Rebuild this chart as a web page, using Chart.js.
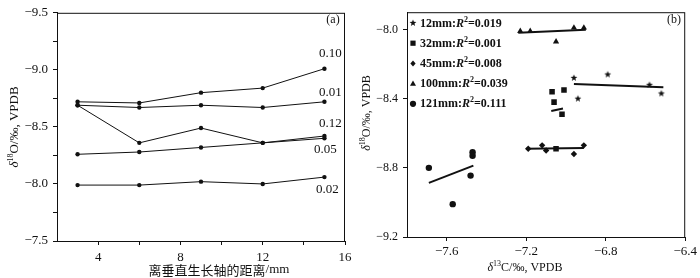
<!DOCTYPE html>
<html>
<head>
<meta charset="utf-8">
<script src="https://cdn.jsdelivr.net/npm/chart.js@4.4.1/dist/chart.umd.min.js"></script>
<style>
	html, body { margin: 0; padding: 0; background: #fff; }
	#wrap { position: relative; width: 700px; height: 278px; overflow: hidden; }
	#chartA { position: absolute; left: 0; top: 0; }
	#chartB { position: absolute; left: 352px; top: 0; }
</style>
</head>
<body>
<div id="wrap">
	<canvas id="chartA" width="360" height="278"></canvas>
	<canvas id="chartB" width="348" height="278"></canvas>
</div>
<script>
// ---- panel (a): distance from vertical growth axis ----
const distances = [3, 6, 9, 12, 15];
const aNames = ['0.10', '0.01', '0.12', '0.05', '0.02'];
const a010 = [-8.72, -8.71, -8.80, -8.84, -9.01];
const a001 = [-8.69, -8.67, -8.69, -8.67, -8.72];
const a012 = [-8.69, -8.36, -8.49, -8.36, -8.42];
const a005 = [-8.26, -8.28, -8.32, -8.36, -8.40];
const a002 = [-7.99, -7.99, -8.02, -8.00, -8.06];
const aXTicks = [4, 6, 8, 10, 12, 14, 16];
const aXLabels = [4, 8, 12, 16];
const aYTicks = [-9.5, -9.25, -9.0, -8.75, -8.5, -8.25, -8.0, -7.75, -7.5];
const aYLabels = [-9.5, -9.0, -8.5, -8.0, -7.5];

// ---- panel (b): d13C vs d18O ----
const bNames = ['12mm', '32mm', '45mm', '100mm', '121mm'];
const bR2 = ['0.019', '0.001', '0.008', '0.039', '0.111'];
const b12x = [-6.96, -6.79, -6.94, -6.58, -6.52];
const b12y = [-8.28, -8.26, -8.40, -8.32, -8.37];
const b32x = [-7.07, -7.01, -7.06, -7.02, -7.05];
const b32y = [-8.36, -8.35, -8.42, -8.49, -8.69];
const b45x = [-7.19, -7.12, -7.10, -6.96, -6.91];
const b45y = [-8.69, -8.67, -8.70, -8.72, -8.67];
const b100x = [-7.23, -7.18, -7.05, -6.96, -6.91];
const b100y = [-8.01, -8.01, -8.07, -7.99, -7.99];
const b121x = [-7.69, -7.57, -7.48, -7.47, -7.47];
const b121y = [-8.80, -9.01, -8.845, -8.71, -8.73];
// fitted line end points
const t12x = [-6.96, -6.51], t12y = [-8.315, -8.334];
const t32x = [-7.074, -7.015], t32y = [-8.471, -8.457];
const t45x = [-7.20, -6.91], t45y = [-8.689, -8.685];
const t100x = [-7.24, -6.90], t100y = [-8.019, -8.002];
const t121x = [-7.69, -7.466], t121y = [-8.887, -8.787];
const bXTicks = [-7.6, -7.2, -6.8, -6.4];
const bYTicks = [-9.2, -8.8, -8.4, -8.0];

const INK = '#111';
const SERIF = "'Liberation Serif', 'DejaVu Serif', 'Noto Sans CJK SC', serif";

const pts = (xs, ys) => xs.map((x, i) => ({ x: x, y: ys[i] }));
const fmt = (v) => v.toFixed(1).replace('-', '\u2212');

function richText(ctx, parts, x, y, opts) {
	opts = opts || {};
	ctx.save();
	ctx.translate(x, y);
	if (opts.rotate) ctx.rotate(-Math.PI / 2);
	let total = 0;
	parts.forEach((p) => {
		ctx.font = p.font;
		p.w = ctx.measureText(p.t).width;
		total += p.w;
	});
	let cx = opts.left ? 0 : -total / 2;
	ctx.textBaseline = 'middle';
	ctx.textAlign = 'left';
	ctx.fillStyle = INK;
	parts.forEach((p) => {
		ctx.font = p.font;
		ctx.fillText(p.t, cx, p.dy || 0);
		cx += p.w;
	});
	ctx.restore();
}

function starCanvas(r) {
	const c = document.createElement('canvas');
	const s = Math.ceil(r * 2) + 2;
	c.width = c.height = s;
	const g = c.getContext('2d');
	g.fillStyle = INK;
	g.beginPath();
	for (let i = 0; i < 10; i++) {
		const rr = i % 2 ? r * 0.42 : r;
		const a = -Math.PI / 2 + i * Math.PI / 5;
		g.lineTo(s / 2 + rr * Math.cos(a), s / 2 + rr * Math.sin(a));
	}
	g.closePath();
	g.fill();
	return c;
}
const star = starCanvas(3.6);

// box around the plot area
const frame = {
	id: 'frame',
	afterDatasetsDraw(chart) {
		const a = chart.chartArea;
		const ctx = chart.ctx;
		ctx.save();
		ctx.strokeStyle = INK;
		ctx.lineWidth = 1;
		ctx.strokeRect(a.left + 0.5, a.top + 0.5, a.right - a.left - 1, a.bottom - a.top);
		ctx.restore();
	},
};

function axisX(min, max, ticks, labelFn, height, pad) {
	return {
		type: 'linear',
		min: min,
		max: max,
		afterBuildTicks: (s) => { s.ticks = ticks.map((v) => ({ value: v })); },
		afterFit: (s) => { s.height = height; },
		ticks: {
			callback: labelFn,
			autoSkip: false,
			maxRotation: 0,
			padding: pad,
			color: INK,
			font: { family: SERIF, size: 13 },
		},
		grid: { display: true, drawOnChartArea: false, tickLength: 4, color: INK },
		border: { color: INK, width: 1 },
	};
}

function axisY(min, max, ticks, labelFn, width, reverse, size) {
	return {
		type: 'linear',
		min: min,
		max: max,
		reverse: reverse,
		afterBuildTicks: (s) => { s.ticks = ticks.map((v) => ({ value: v })); },
		afterFit: (s) => { s.width = width; },
		ticks: {
			callback: labelFn,
			autoSkip: false,
			padding: 5,
			color: INK,
			font: { family: SERIF, size: size },
		},
		grid: { display: true, drawOnChartArea: false, tickLength: 4, color: INK },
		border: { color: INK, width: 1 },
	};
}

// ---------- chart (a) ----------
const aSeries = [a010, a001, a012, a005, a002];
// label offsets from the last point of each line
const aLabelOff = [[6, -15], [6, -9], [6, -12], [1, 11], [3, 12]];

const labelsA = {
	id: 'labelsA',
	afterDraw(chart) {
		const ctx = chart.ctx;
		const xs = chart.scales.x, ys = chart.scales.y;
		const last = distances.length - 1;
		aSeries.forEach((s, i) => {
			const px = xs.getPixelForValue(distances[last]) + aLabelOff[i][0];
			const py = ys.getPixelForValue(s[last]) + aLabelOff[i][1];
			richText(ctx, [{ t: aNames[i], font: `13px ${SERIF}` }], px, py);
		});
		richText(ctx, [{ t: '(a)', font: `12px ${SERIF}` }], 333, 20);
		richText(ctx, [
			{ t: '\u03b4', font: `italic 13px ${SERIF}` },
			{ t: '18', font: `8px ${SERIF}`, dy: -4 },
			{ t: 'O/\u2030, VPDB', font: `13px ${SERIF}` },
		], 15, 127, { rotate: true });
		richText(ctx, [
			{ t: '离垂直生长轴的距离', font: `13px 'Noto Sans CJK SC', sans-serif` },
			{ t: '/mm', font: `13px ${SERIF}` },
		], 219, 270);
	},
};

new Chart(document.getElementById('chartA'), {
	type: 'scatter',
	data: {
		datasets: aSeries.map((s, i) => ({
			label: aNames[i],
			data: pts(distances, s),
			showLine: true,
			borderColor: INK,
			backgroundColor: INK,
			borderWidth: 1,
			pointRadius: 2.2,
			pointBorderWidth: 0,
		})),
	},
	options: {
		responsive: false,
		animation: false,
		layout: { padding: { top: 9, right: 15, left: 0, bottom: 0 } },
		plugins: { legend: { display: false }, tooltip: { enabled: false } },
		scales: {
			x: axisX(2, 16, aXTicks, (v) => (aXLabels.includes(v) ? String(v) : ''), 37, 5),
			y: axisY(-9.5, -7.5, aYTicks, (v) => (aYLabels.includes(v) ? fmt(v) : ''), 57, true, 13),
		},
	},
	plugins: [frame, labelsA],
});

// ---------- chart (b) ----------
const bStyles = [
	{ style: star, r: 4 },
	{ style: 'rect', r: 3.9 },
	{ style: 'rectRot', r: 3.2 },
	{ style: 'triangle', r: 3.6 },
	{ style: 'circle', r: 3.2 },
];
const bPoints = [pts(b12x, b12y), pts(b32x, b32y), pts(b45x, b45y), pts(b100x, b100y), pts(b121x, b121y)];
const bTrends = [pts(t12x, t12y), pts(t32x, t32y), pts(t45x, t45y), pts(t100x, t100y), pts(t121x, t121y)];

const legendB = {
	id: 'legendB',
	afterDraw(chart) {
		const ctx = chart.ctx;
		bNames.forEach((n, i) => {
			const y = 23 + i * 20.2;
			const mx = 61;
			ctx.save();
			ctx.fillStyle = INK;
			ctx.beginPath();
			if (i === 0) {
				ctx.drawImage(star, mx - star.width / 2, y - star.height / 2);
			} else if (i === 1) {
				ctx.fillRect(mx - 2.6, y - 2.6, 5.2, 5.2);
			} else if (i === 2) {
				ctx.moveTo(mx, y - 3); ctx.lineTo(mx + 2.6, y); ctx.lineTo(mx, y + 3); ctx.lineTo(mx - 2.6, y);
				ctx.fill();
			} else if (i === 3) {
				ctx.moveTo(mx, y - 3.2); ctx.lineTo(mx + 3, y + 2.2); ctx.lineTo(mx - 3, y + 2.2);
				ctx.fill();
			} else {
				ctx.arc(mx, y, 3.1, 0, Math.PI * 2);
				ctx.fill();
			}
			ctx.restore();
			richText(ctx, [
				{ t: n + ':', font: `bold 12px ${SERIF}` },
				{ t: 'R', font: `bold italic 12px ${SERIF}` },
				{ t: '2', font: `bold 8px ${SERIF}`, dy: -4 },
				{ t: '=' + bR2[i], font: `bold 12px ${SERIF}` },
			], 68, y + 0.5, { left: true });
		});
		richText(ctx, [{ t: '(b)', font: `12px ${SERIF}` }], 322, 20);
		richText(ctx, [
			{ t: '\u03b4', font: `italic 12px ${SERIF}` },
			{ t: '18', font: `8px ${SERIF}`, dy: -4 },
			{ t: 'O/\u2030, VPDB', font: `12px ${SERIF}` },
		], 15, 113, { rotate: true });
		richText(ctx, [
			{ t: '\u03b4', font: `italic 12px ${SERIF}` },
			{ t: '13', font: `8px ${SERIF}`, dy: -4 },
			{ t: 'C/\u2030, VPDB', font: `12px ${SERIF}` },
		], 173, 268);
	},
};

const bDatasets = [];
bPoints.forEach((p, i) => {
	bDatasets.push({
		label: bNames[i],
		data: p,
		pointStyle: bStyles[i].style,
		pointRadius: bStyles[i].r,
		pointBorderWidth: 0,
		backgroundColor: INK,
		borderColor: INK,
	});
});
bTrends.forEach((p, i) => {
	bDatasets.push({
		label: bNames[i] + ' fit',
		data: p,
		showLine: true,
		pointRadius: 0,
		borderColor: INK,
		borderWidth: 2,
	});
});

new Chart(document.getElementById('chartB'), {
	type: 'scatter',
	data: { datasets: bDatasets },
	options: {
		responsive: false,
		animation: false,
		layout: { padding: { top: 8, right: 14, left: 0, bottom: 0 } },
		plugins: { legend: { display: false }, tooltip: { enabled: false } },
		scales: {
			x: axisX(-7.8, -6.4, bXTicks, (v) => fmt(v), 41, 3),
			y: axisY(-9.2, -7.9, bYTicks, (v) => fmt(v), 55, false, 12),
		},
	},
	plugins: [frame, legendB],
});
</script>
</body>
</html>
